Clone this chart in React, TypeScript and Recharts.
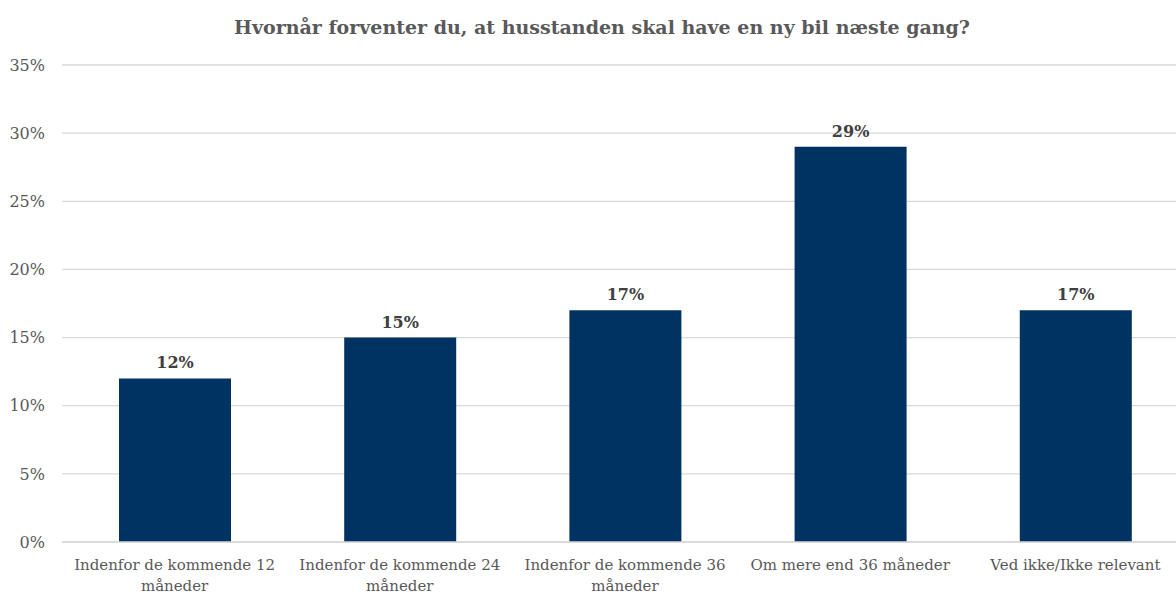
import { Bar, BarChart, CartesianGrid, LabelList, Text, XAxis, YAxis } from "recharts";

const categories = [
  "Indenfor de kommende 12 måneder",
  "Indenfor de kommende 24 måneder",
  "Indenfor de kommende 36 måneder",
  "Om mere end 36 måneder",
  "Ved ikke/Ikke relevant",
];
const shares = [0.12, 0.15, 0.17, 0.29, 0.17];
const yTicks = [0, 0.05, 0.1, 0.15, 0.2, 0.25, 0.3, 0.35];
const title = "Hvornår forventer du, at husstanden skal have en ny bil næste gang?";

const data = categories.map((c, i) => ({ category: c, share: shares[i] }));

const FONT = "'DejaVu Serif', serif";
const pct = (v: number) => `${Math.round(v * 100)}%`;

function CategoryTick(props: any) {
  const { x, y, payload } = props;
  return (
    <Text
      x={x}
      y={y}
      width={215}
      textAnchor="middle"
      verticalAnchor="start"
      lineHeight={21}
      style={{ fontFamily: FONT, fontSize: 15 }}
      fill="#595959"
    >
      {payload.value}
    </Text>
  );
}

export default function App() {
  return (
    <div
      style={{
        position: "absolute",
        left: 0,
        top: 0,
        width: 1176,
        height: 596,
        overflow: "hidden",
        background: "#fff",
      }}
    >
      <svg
        width={1176}
        height={40}
        style={{ position: "absolute", left: 0, top: 0 }}
      >
        <text
          x={602}
          y={34}
          textAnchor="middle"
          fontFamily={FONT}
          fontWeight="bold"
          fontSize={19}
          fill="#595959"
        >
          {title}
        </text>
      </svg>
      <div style={{ position: "absolute", left: 0, top: 0 }}>
        <BarChart
          width={1188}
          height={596}
          data={data}
          margin={{ top: 65, right: 0, left: 0, bottom: 0 }}
          barCategoryGap="25%"
        >
          <CartesianGrid vertical={false} stroke="#d9d9d9" strokeWidth={1.3} />
          <XAxis
            dataKey="category"
            axisLine={{ stroke: "#d9d9d9", strokeWidth: 1.3 }}
            tickLine={false}
            tickSize={0}
            tickMargin={17}
            interval={0}
            tick={<CategoryTick />}
            height={54}
          />
          <YAxis
            width={62}
            domain={[0, 0.35]}
            ticks={yTicks}
            tickFormatter={pct}
            axisLine={false}
            tickLine={false}
            tickSize={0}
            tickMargin={17}
            tick={{ fill: "#595959", fontSize: 16, fontFamily: FONT }}
          />
          <Bar dataKey="share" fill="#003361" barSize={112} isAnimationActive={false}>
            <LabelList
              dataKey="share"
              position="top"
              offset={10}
              formatter={(v: any) => pct(Number(v))}
              style={{ fontFamily: FONT, fontSize: 16, fontWeight: "bold", fill: "#404040" }}
            />
          </Bar>
        </BarChart>
      </div>
    </div>
  );
}
